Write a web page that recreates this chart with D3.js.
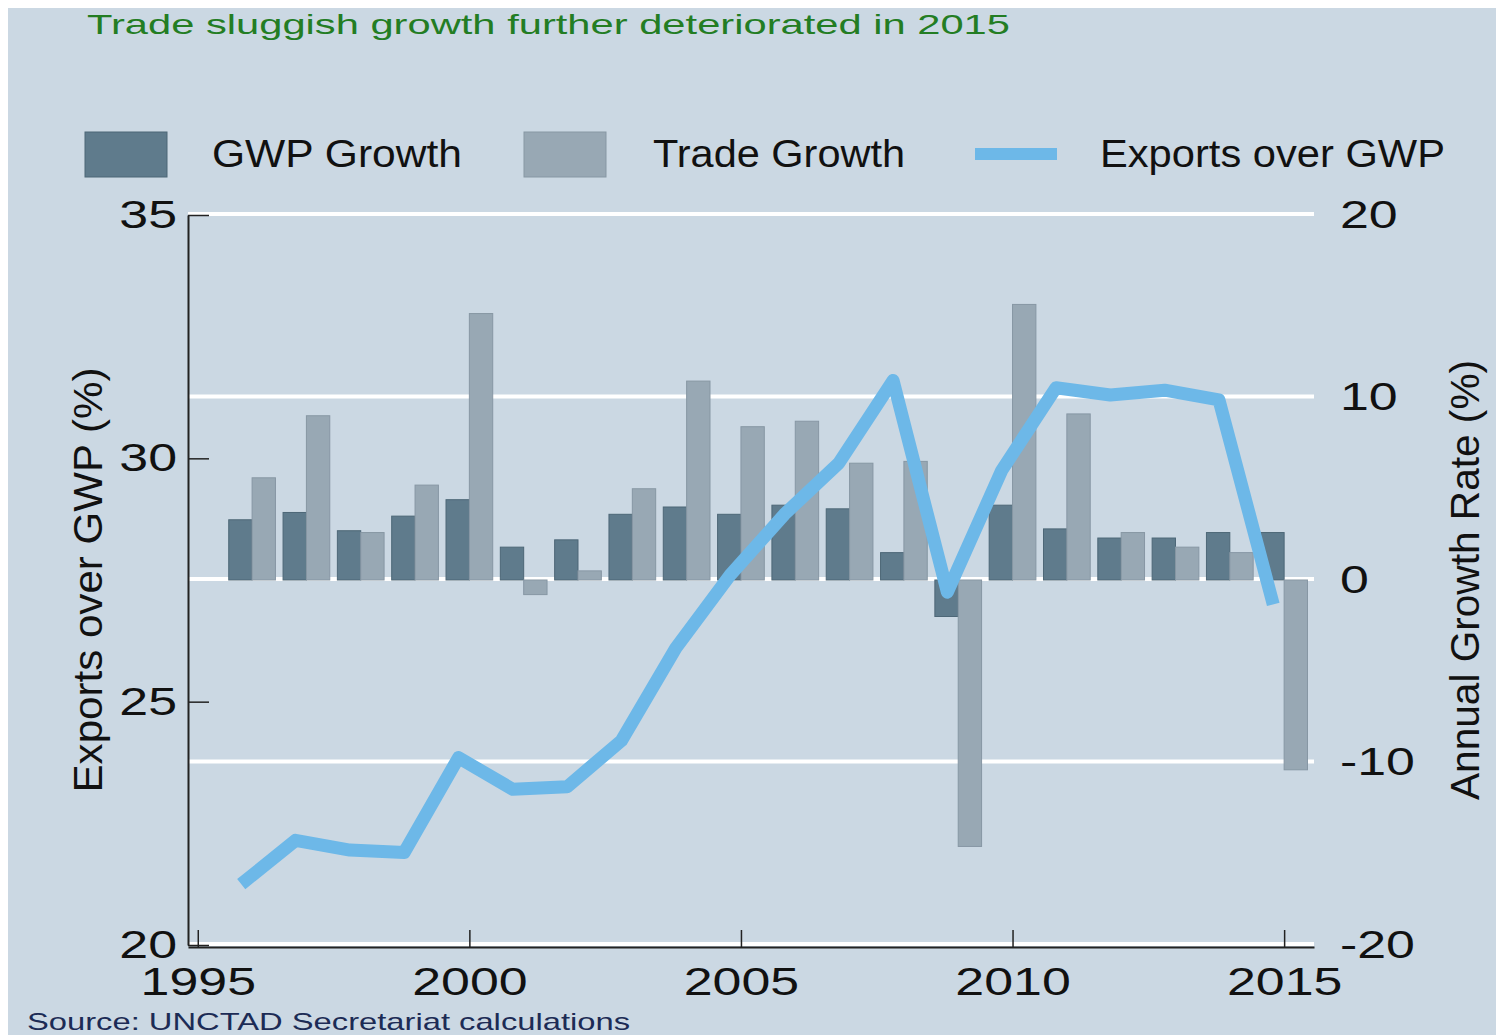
<!DOCTYPE html>
<html>
<head>
<meta charset="utf-8">
<script src="https://cdn.jsdelivr.net/npm/d3@7/dist/d3.min.js"></script>
<style>
  body { margin: 0; background: #fff; }
  svg { display: block; }
  text { font-family: "Liberation Sans", Arial, sans-serif; }
</style>
</head>
<body>
<svg id="chart" width="1504" height="1035"></svg>
<script>
const years = [1996, 1997, 1998, 1999, 2000, 2001, 2002, 2003, 2004, 2005,
  2006, 2007, 2008, 2009, 2010, 2011, 2012, 2013, 2014, 2015]
// annual growth, %
const gwpGrowth = [3.3, 3.7, 2.7, 3.5, 4.4, 1.8, 2.2, 3.6, 4.0, 3.6,
  4.1, 3.9, 1.5, -2.0, 4.1, 2.8, 2.3, 2.3, 2.6, 2.6]
const tradeGrowth = [5.6, 9.0, 2.6, 5.2, 14.6, -0.8, 0.5, 5.0, 10.9, 8.4,
  8.7, 6.4, 6.5, -14.6, 15.1, 9.1, 2.6, 1.8, 1.5, -10.4]
// exports as share of GWP, %
const exportsOverGwp = [21.25, 22.15, 21.95, 21.9, 23.85, 23.2, 23.25, 24.2, 26.1, 27.6,
  28.85, 29.9, 31.6, 27.25, 29.75, 31.45, 31.3, 31.4, 31.2, 27.0]
const xTicks = [1995, 2000, 2005, 2010, 2015]
const leftTicks = [20, 25, 30, 35]
const rightTicks = [-20, -10, 0, 10, 20]

const bg = '#cbd8e3'
const gwpColor = '#5f7b8c'
const tradeColor = '#98a8b4'
const lineColor = '#6db8e8'

const svg = d3.select('#chart')

// the source picture is stretched sideways, so is the text
function stretch (sel, k) {
  sel.each(function () {
    const w = this.getComputedTextLength()
    d3.select(this)
      .attr('textLength', w * k)
      .attr('lengthAdjust', 'spacingAndGlyphs')
  })
}

function fitTo (sel, w) {
  sel.attr('textLength', w).attr('lengthAdjust', 'spacingAndGlyphs')
}

svg.append('rect')
  .attr('x', 8).attr('y', 8)
  .attr('width', 1488).attr('height', 1027)
  .attr('fill', bg)

// Scales

const x = d3.scaleLinear().domain([1994.82, 2015.55]).range([188, 1314])
const yL = d3.scaleLinear().domain([20, 35]).range([945, 215])
const yR = d3.scaleLinear().domain([-20, 20]).range([945, 215])
const barW = x(1996) - x(1995.57)

// Gridlines

svg.append('g')
  .selectAll('line').data(rightTicks).enter().append('line')
    .attr('x1', x.range()[0])
    .attr('x2', x.range()[1])
    .attr('y1', d => yR(d) - 1)
    .attr('y2', d => yR(d) - 1)
    .attr('stroke', '#fff')
    .attr('stroke-width', 4)

// Bars

const bars = svg.append('g')
bars.selectAll('.gwp').data(years).enter().append('rect')
  .attr('class', 'gwp')
  .attr('x', d => x(d) - barW)
  .attr('width', barW)
  .attr('y', (d, i) => yR(Math.max(0, gwpGrowth[i])))
  .attr('height', (d, i) => Math.abs(yR(gwpGrowth[i]) - yR(0)))
  .attr('fill', gwpColor)
  .attr('stroke', '#4d6777')
  .attr('stroke-width', 1)

bars.selectAll('.trade').data(years).enter().append('rect')
  .attr('class', 'trade')
  .attr('x', d => x(d))
  .attr('width', barW)
  .attr('y', (d, i) => yR(Math.max(0, tradeGrowth[i])))
  .attr('height', (d, i) => Math.abs(yR(tradeGrowth[i]) - yR(0)))
  .attr('fill', tradeColor)
  .attr('stroke', '#8797a4')
  .attr('stroke-width', 1)

// Line

const line = d3.line()
  .x((d, i) => x(years[i] - 0.2))
  .y(d => yL(d))

svg.append('path')
  .datum(exportsOverGwp)
  .attr('d', line)
  .attr('fill', 'none')
  .attr('stroke', lineColor)
  .attr('stroke-width', 13)
  .attr('stroke-linejoin', 'round')

// Axes

const fontSize = 39
const wide = 1.33

const xAxis = svg.append('g')
  .attr('transform', `translate(0, ${yL(20) + 2})`)
  .call(d3.axisBottom(x).tickValues(xTicks).tickFormat(d3.format('d'))
    .tickSize(-17).tickSizeOuter(0).tickPadding(20))
xAxis.select('.domain').attr('stroke', '#222').attr('stroke-width', 2)
xAxis.selectAll('.tick line').attr('stroke', '#222').attr('stroke-width', 1.5)
xAxis.selectAll('text').attr('font-size', fontSize).attr('fill', '#111').call(stretch, wide)

const yAxisL = svg.append('g')
  .attr('transform', `translate(${x.range()[0]}, 0)`)
  .call(d3.axisLeft(yL).tickValues(leftTicks)
    .tickSize(-21).tickSizeOuter(0).tickPadding(11))
yAxisL.select('.domain').attr('stroke', '#222').attr('stroke-width', 2)
yAxisL.selectAll('.tick line').attr('stroke', '#222').attr('stroke-width', 1.5)
yAxisL.selectAll('text').attr('font-size', fontSize).attr('fill', '#111').call(stretch, wide)

const yAxisR = svg.append('g')
  .attr('transform', `translate(${x.range()[1]}, 0)`)
  .call(d3.axisRight(yR).tickValues(rightTicks).tickFormat(d => String(d))
    .tickSize(0).tickPadding(26))
yAxisR.select('.domain').remove()
yAxisR.selectAll('text').attr('font-size', fontSize).attr('fill', '#111').call(stretch, wide)

// Axis titles

svg.append('text')
  .attr('transform', `translate(102, ${(yL(20) + yL(35)) / 2}) rotate(-90)`)
  .attr('text-anchor', 'middle')
  .attr('font-size', 41)
  .attr('fill', '#111')
  .text('Exports over GWP (%)')
  .call(fitTo, 425)

svg.append('text')
  .attr('transform', `translate(1479, ${(yR(-20) + yR(20)) / 2}) rotate(-90)`)
  .attr('text-anchor', 'middle')
  .attr('font-size', 41)
  .attr('fill', '#111')
  .text('Annual Growth Rate (%)')
  .call(fitTo, 440)

// Title, legend, source

svg.append('text')
  .attr('x', 87).attr('y', 34)
  .attr('font-size', 28)
  .attr('fill', '#237d23')
  .text('Trade sluggish growth further deteriorated in 2015')
  .call(fitTo, 923)

const legendItems = [
  { label: 'GWP Growth', type: 'bar', color: gwpColor, stroke: '#4d6777', x: 85, tx: 212, w: 250 },
  { label: 'Trade Growth', type: 'bar', color: tradeColor, stroke: '#8797a4', x: 524, tx: 653, w: 252 },
  { label: 'Exports over GWP', type: 'line', color: lineColor, x: 975, tx: 1100, w: 345 }
]
const legend = svg.append('g')
legend.selectAll('rect').data(legendItems.filter(d => d.type === 'bar')).enter().append('rect')
  .attr('x', d => d.x).attr('y', 132)
  .attr('width', 82).attr('height', 45)
  .attr('fill', d => d.color)
  .attr('stroke', d => d.stroke)
legend.selectAll('line').data(legendItems.filter(d => d.type === 'line')).enter().append('line')
  .attr('x1', d => d.x).attr('x2', d => d.x + 82)
  .attr('y1', 154).attr('y2', 154)
  .attr('stroke', d => d.color)
  .attr('stroke-width', 12)
legend.selectAll('text').data(legendItems).enter().append('text')
  .attr('x', d => d.tx).attr('y', 167)
  .attr('font-size', 38)
  .attr('fill', '#111')
  .attr('textLength', d => d.w)
  .attr('lengthAdjust', 'spacingAndGlyphs')
  .text(d => d.label)

svg.append('text')
  .attr('x', 27).attr('y', 1030)
  .attr('font-size', 24)
  .attr('fill', '#1c2b55')
  .text('Source: UNCTAD Secretariat calculations')
  .call(fitTo, 603)
</script>
</body>
</html>
